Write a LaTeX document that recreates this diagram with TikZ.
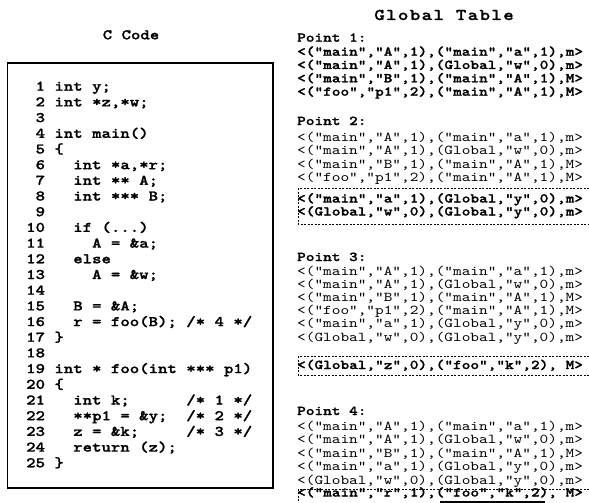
\documentclass[tikz,border=0pt]{standalone}
\usepackage{fontspec}
\setmonofont{lmmono10-regular.otf}[FakeStretch=1.223, BoldFont=lmmonolt10-bold.otf, BoldFeatures={FakeBold=1.3}]
\newfontfamily\gtfont{lmmono10-regular.otf}[FakeStretch=1.223, LetterSpace=8, BoldFont=lmmonolt10-bold.otf, BoldFeatures={FakeBold=1.3}]
\usepackage{tikz}
\frenchspacing

\begin{document}
\begin{tikzpicture}[x=1pt,y=-1pt]
		\tikzstyle{every node}=[inner sep=0pt, anchor=base west]
		\tikzstyle{code}=[font=\fontsize{14.67}{14.67}\selectfont\ttfamily\bfseries]
		\tikzstyle{entry}=[font=\fontsize{13.49}{13.49}\selectfont\ttfamily]
		\tikzstyle{newentry}=[font=\fontsize{13.49}{13.49}\selectfont\ttfamily\bfseries]
		\tikzstyle{newbox}=[dash pattern=on 2pt off 1.5pt, line width=0.9pt]
		
		\useasboundingbox (0,0) rectangle (589,503);
		
		% titles
		\node[code, anchor=base] (ctitle) at (131,39.3) {C Code};
		\node[anchor=base, font=\fontsize{16.4}{16.4}\selectfont\gtfont\bfseries] (gtitle) at (444,20) {Global Table};
		
		% C code
		\draw[line width=1.6pt] (7.5,63) rectangle (273,488);
		\node[code] (l1) at (26,90.7) {~1 int y;};
		\node[code] (l2) at (26,106.4) {~2 int *z,*w;};
		\node[code] (l3) at (26,122.1) {~3};
		\node[code] (l4) at (26,137.8) {~4 int main()};
		\node[code] (l5) at (26,153.5) {~5 \{};
		\node[code] (l6) at (26,169.2) {~6~~~int *a,*r;};
		\node[code] (l7) at (26,184.8) {~7~~~int ** A;};
		\node[code] (l8) at (26,200.5) {~8~~~int *** B;};
		\node[code] (l9) at (26,216.2) {~9};
		\node[code] (l10) at (26,231.9) {10~~~if (...)};
		\node[code] (l11) at (26,247.6) {11~~~~~A = \&a;};
		\node[code] (l12) at (26,263.3) {12~~~else};
		\node[code] (l13) at (26,279.0) {13~~~~~A = \&w;};
		\node[code] (l14) at (26,294.7) {14};
		\node[code] (l15) at (26,310.4) {15~~~B = \&A;};
		\node[code] (l16) at (26,326.1) {16~~~r = foo(B); /* 4 */};
		\node[code] (l17) at (26,341.7) {17 \}};
		\node[code] (l18) at (26,357.4) {18};
		\node[code] (l19) at (26,373.1) {19 int * foo(int *** p1)};
		\node[code] (l20) at (26,388.8) {20 \{};
		\node[code] (l21) at (26,404.5) {21~~~int k;~~~~~~/* 1 */};
		\node[code] (l22) at (26,420.2) {22~~~**p1 = \&y;~~/* 2 */};
		\node[code] (l23) at (26,435.9) {23~~~z = \&k;~~~~~/* 3 */};
		\node[code] (l24) at (26,451.6) {24~~~return (z);};
		\node[code] (l25) at (26,467.3) {25 \}};
		
		% point 1
		\node[newentry] (p1) at (297,41.7) {Point 1:};
		\node[newentry] (p1a) at (297,55.7) {<("main","A",1),("main","a",1),m>};
		\node[newentry] (p1b) at (297,69) {<("main","A",1),(Global,"w",0),m>};
		\node[newentry] (p1c) at (297,82.3) {<("main","B",1),("main","A",1),M>};
		\node[newentry] (p1d) at (297,95.7) {<("foo","p1",2),("main","A",1),M>};
		
		% point 2
		\node[newentry] (p2) at (297,125) {Point 2:};
		\node[entry] (p2a) at (297,141) {<("main","A",1),("main","a",1),m>};
		\node[entry] (p2b) at (297,154.5) {<("main","A",1),(Global,"w",0),m>};
		\node[entry] (p2c) at (297,168) {<("main","B",1),("main","A",1),M>};
		\node[entry] (p2d) at (297,181.5) {<("foo","p1",2),("main","A",1),M>};
		\node[newentry] (p2e) at (297,202.5) {<("main","a",1),(Global,"y",0),m>};
		\node[newentry] (p2f) at (297,215.5) {<(Global,"w",0),(Global,"y",0),m>};
		\draw[newbox] (589,188.5) -- (298,188.5) -- (298,224) -- (589,224);
		
		% point 3
		\node[newentry] (p3) at (297,261) {Point 3:};
		\node[entry] (p3a) at (297,275) {<("main","A",1),("main","a",1),m>};
		\node[entry] (p3b) at (297,288.2) {<("main","A",1),(Global,"w",0),m>};
		\node[entry] (p3c) at (297,301.4) {<("main","B",1),("main","A",1),M>};
		\node[entry] (p3d) at (297,314.6) {<("foo","p1",2),("main","A",1),M>};
		\node[entry] (p3e) at (297,327.8) {<("main","a",1),(Global,"y",0),m>};
		\node[entry] (p3f) at (297,341) {<(Global,"w",0),(Global,"y",0),m>};
		\node[newentry] (p3g) at (297,369) {<(Global,"z",0),("foo","k",2), M>};
		\draw[newbox] (589,356.5) -- (298,356.5) -- (298,375) -- (589,375);
		
		% point 4
		\node[newentry] (p4) at (297,415) {Point 4:};
		\node[entry] (p4a) at (297,430) {<("main","A",1),("main","a",1),m>};
		\node[entry] (p4b) at (297,443.5) {<("main","A",1),(Global,"w",0),m>};
		\node[entry] (p4c) at (297,457) {<("main","B",1),("main","A",1),M>};
		\node[entry] (p4d) at (297,470.5) {<("main","a",1),(Global,"y",0),m>};
		\node[entry] (p4e) at (297,484) {<(Global,"w",0),(Global,"y",0),m>};
		\node[newentry] (p4f) at (297,496.5) {<("main","r",1),("foo","k",2), M>};
		\draw[newbox] (589,489) -- (298,489) -- (298,506);
		\draw[line width=1.6pt] (440,502) -- (545,502);
		
		\end{tikzpicture}
\end{document}
